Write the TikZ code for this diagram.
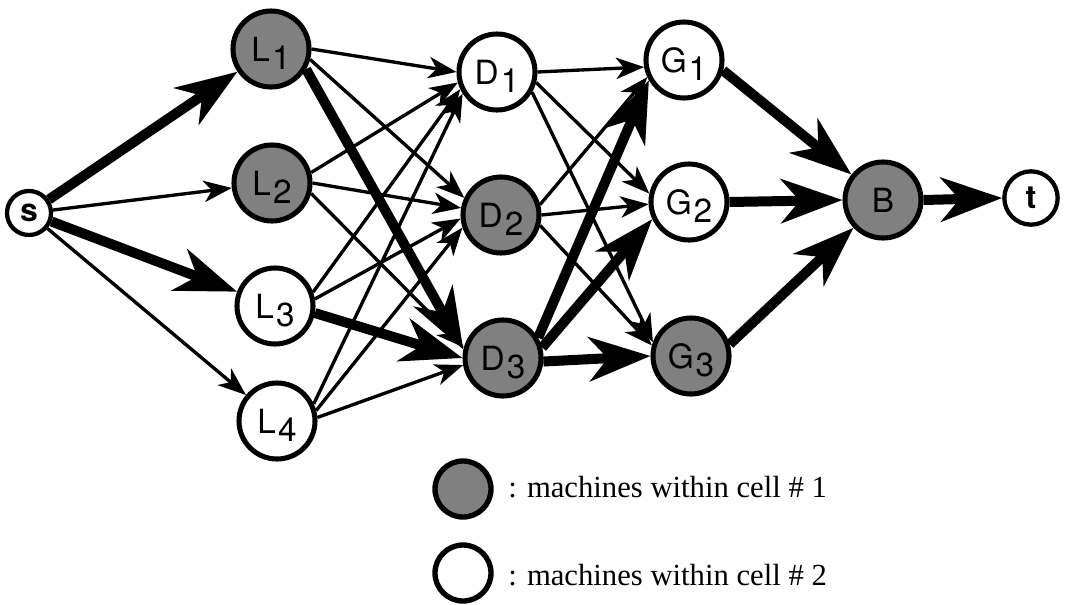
\documentclass[tikz,border=0pt]{standalone}
\usepackage{fontspec}
\setmainfont{Liberation Serif}
\newfontfamily\helv{TeX Gyre Heros}
\usetikzlibrary{arrows.meta}
\newcommand\mlab[2]{#1\hspace{1.5pt}\raisebox{-6pt}[0pt][0pt]{#2}}
\tikzset{
  mach/.style={circle, draw, line width=3.8pt, minimum size=57pt, inner sep=0pt,
    font=\helv\fontsize{25}{25}\selectfont},
  cellA/.style={mach, fill=black!50},
  cellB/.style={mach, fill=white},
  endnode/.style={circle, draw, line width=3.2pt, inner sep=0pt, fill=white,
    font=\helv\bfseries\fontsize{24}{24}\selectfont},
  arcthin/.style={line width=2.5pt, -{Stealth[length=21pt,width=16pt,inset=6pt]}},
  arcthick/.style={line width=7.5pt, -{Stealth[length=46pt,width=33pt,inset=14pt]}},
  legtext/.style={anchor=base west, inner sep=0pt, font=\fontsize{23}{23}\selectfont},
}
\begin{document}
\begin{tikzpicture}[x=0.75pt,y=-0.75pt]
\useasboundingbox (0,0) rectangle (1067,604);
% nodes
\node[endnode, minimum size=33pt] (s) at (29,213) {s};
\node[cellA] (L1) at (271,49) {\mlab{L}{1}};
\node[cellA] (L2) at (272,183) {\mlab{L}{2}};
\node[cellB] (L3) at (275,306) {\mlab{L}{3}};
\node[cellB] (L4) at (277,421) {\mlab{L}{4}};
\node[cellB] (D1) at (497,72) {\mlab{D}{1}};
\node[cellA] (D2) at (501,215) {\mlab{D}{2}};
\node[cellA] (D3) at (503,358) {\mlab{D}{3}};
\node[cellB] (G1) at (684,60) {\mlab{G}{1}};
\node[cellB] (G2) at (689,202) {\mlab{G}{2}};
\node[cellA] (G3) at (691,356) {\mlab{G}{3}};
\node[cellA] (B) at (883,200) {B};
\node[endnode, minimum size=40pt] (t) at (1031,198) {t};
% s -> L
\draw[arcthick] (s) -- (L1);
\draw[arcthin] (s) -- (L2);
\draw[arcthick] (s) -- (L3);
\draw[arcthin] (s) -- (L4);
% L -> D
\draw[arcthin] (L1.0) -- (D1.180);
\draw[arcthin] (L1.-15) -- (D2.155);
\draw[arcthick] (L1.-30) -- (D3.168);
\draw[arcthin] (L2.15) -- (D1.195);
\draw[arcthin] (L2.0) -- (D2.170);
\draw[arcthin] (L2.-15) -- (D3.165);
\draw[arcthin] (L3.20) -- (D1.205);
\draw[arcthin] (L3.10) -- (D2.185);
\draw[arcthick] (L3.-10) -- (D3.180);
\draw[arcthin] (L4.25) -- (D1.212);
\draw[arcthin] (L4.15) -- (D2.198);
\draw[arcthin] (L4.5) -- (D3.190);
% D -> G
\draw[arcthin] (D1.0) -- (G1.190);
\draw[arcthin] (D1.-15) -- (G2.168);
\draw[arcthin] (D1.-30) -- (G3.160);
\draw[arcthin] (D2.15) -- (G1.205);
\draw[arcthin] (D2.0) -- (G2.183);
\draw[arcthin] (D2.-15) -- (G3.165);
\draw[arcthick] (D3.30) -- (G1.210);
\draw[arcthick] (D3.15) -- (G2.205);
\draw[arcthick] (D3.-5) -- (G3.180);
% G -> B -> t
\draw[arcthick] (G1.-15) -- (B);
\draw[arcthick] (G2.0) -- (B.180);
\draw[arcthick] (G3.17) -- (B);
\draw[arcthick] (B.0) -- (t.180);
% legend
\node[cellA, minimum size=42pt, line width=4pt] (k1) at (463,489) {};
\node[cellB, minimum size=42pt, line width=4pt] (k2) at (463,573) {};
\node[legtext] (k1t) at (508,497) {: machines within cell \# 1};
\node[legtext] (k2t) at (508,585) {: machines within cell \# 2};
\end{tikzpicture}
\end{document}
